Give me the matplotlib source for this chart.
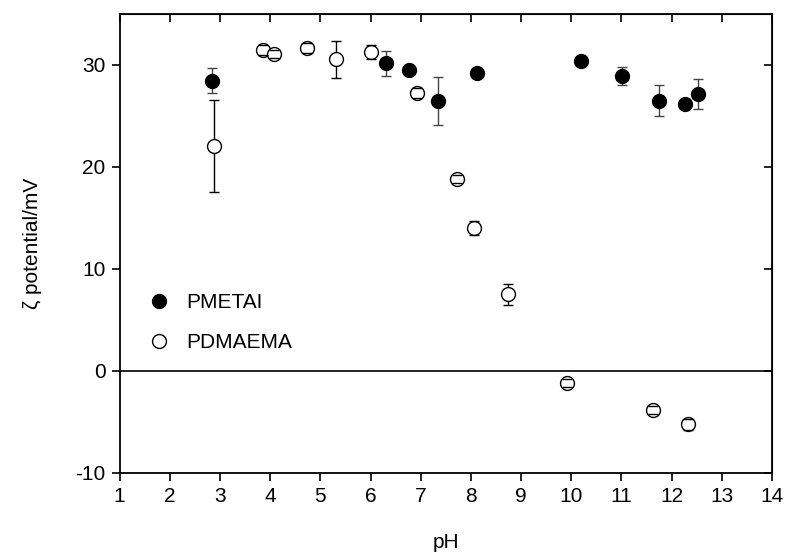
import matplotlib
matplotlib.use("Agg")
import matplotlib.pyplot as plt

plt.rcParams['font.family'] = ['Liberation Sans', 'DejaVu Sans']
plt.rcParams['axes.unicode_minus'] = False

# PMETAI (filled circles)
ph_pmetai = [2.84, 6.31, 6.77, 7.35, 8.13, 10.20, 11.01, 11.75, 12.26, 12.53]
zeta_pmetai = [28.45, 30.16, 29.50, 26.46, 29.24, 30.39, 28.89, 26.50, 26.20, 27.15]
err_pmetai = [1.2, 1.2, 0.3, 2.35, 0.4, 0.3, 0.88, 1.5, 0.3, 1.5]

# PDMAEMA (open circles)
ph_pdmaema = [2.89, 3.85, 4.07, 4.74, 5.32, 6.00, 6.93, 7.73, 8.07, 8.73, 9.92, 11.62, 12.32]
zeta_pdmaema = [22.02, 31.47, 31.07, 31.63, 30.55, 31.24, 27.28, 18.78, 13.97, 7.49, -1.24, -3.86, -5.27]
err_pdmaema = [4.5, 0.5, 0.4, 0.5, 1.8, 0.7, 0.5, 0.4, 0.7, 1.0, 0.4, 0.4, 0.5]

x_ticks = list(range(1, 15))
y_ticks = [-10, 0, 10, 20, 30]

FS = 15

fig = plt.figure(figsize=(7.87, 5.54), dpi=100)
ax = fig.add_axes([0.152, 0.1468, 0.829, 0.828])


def draw_series(x, y, err, face, barcolor, label):
    line, caps, bars = ax.errorbar(x, y, yerr=err, fmt='o', ms=10, mfc=face, mec='black',
                                   mew=1.0, ecolor=barcolor, elinewidth=1.0, capsize=3.5,
                                   capthick=1.0, label=label)
    line.set_zorder(3)
    for b in bars:
        b.set_zorder(2)
    for c in caps:
        c.set_zorder(4 if face == 'white' else 2)
    return line


draw_series(ph_pmetai, zeta_pmetai, err_pmetai, 'black', '#444444', 'PMETAI')
draw_series(ph_pdmaema, zeta_pdmaema, err_pdmaema, 'white', 'black', 'PDMAEMA')

ax.axhline(0, color='black', lw=1.2, zorder=1)

ax.set_xlim(1, 14)
ax.set_ylim(-10, 35)
ax.set_xticks(x_ticks)
ax.set_yticks(y_ticks)
ax.tick_params(axis='both', which='major', labelsize=FS, length=6, width=1.2,
               direction='out', top=False, right=False, pad=4)
for s in ax.spines.values():
    s.set_linewidth(1.3)

# mirrored inward ticks on top and right
ax_top = ax.secondary_xaxis('top')
ax_top.set_xticks(x_ticks)
ax_top.tick_params(direction='in', length=6, width=1.2, labeltop=False)
ax_right = ax.secondary_yaxis('right')
ax_right.set_yticks(y_ticks)
ax_right.tick_params(direction='in', length=6, width=1.2, labelright=False)

ax.set_xlabel('pH', fontsize=FS, labelpad=20)
ax.set_ylabel('ζ potential/mV', fontsize=FS, labelpad=24)

handles, labels = ax.get_legend_handles_labels()
ax.legend([h[0] for h in handles], labels, loc='center left', bbox_to_anchor=(0.0, 0.327),
          frameon=False, fontsize=FS, handletextpad=0.55, labelspacing=1.0,
          handlelength=1.5, borderaxespad=0.75, numpoints=1)

fig.savefig('out.png', dpi=100)
